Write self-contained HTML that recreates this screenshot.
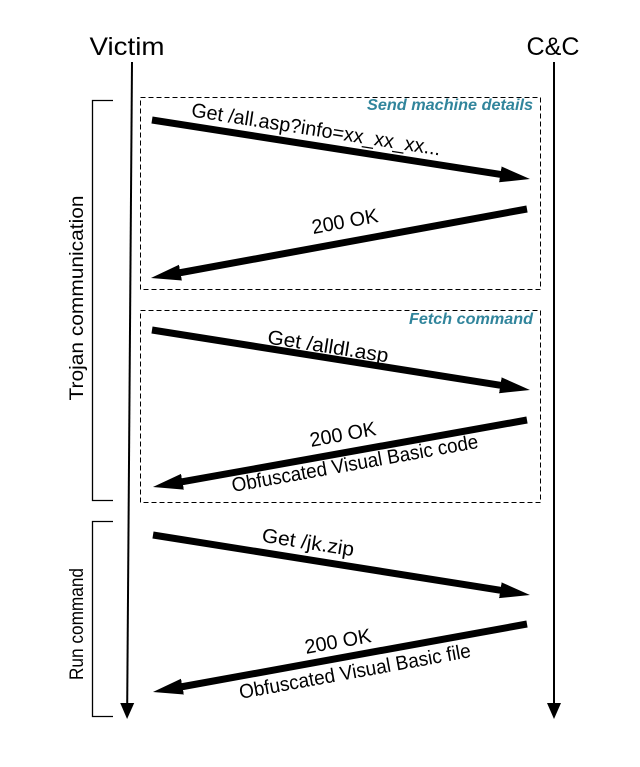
<!DOCTYPE html>
<html><head><meta charset="utf-8"><style>html,body{margin:0;padding:0;background:#fff;}svg{display:block}</style></head>
<body>
<svg width="640" height="767" viewBox="0 0 640 767" xmlns="http://www.w3.org/2000/svg" font-family="'Liberation Sans', sans-serif">
<defs>
<marker id="ah" markerUnits="userSpaceOnUse" markerWidth="40" markerHeight="20" viewBox="0 -10 40 20" refX="2" refY="0" orient="auto">
<path d="M0,-8 L30,0 L0,8 z" fill="#000"/>
</marker>
<marker id="vh" markerUnits="userSpaceOnUse" markerWidth="20" markerHeight="20" viewBox="0 -10 20 20" refX="1" refY="0" orient="auto">
<path d="M0,-7 L16,0 L0,7 z" fill="#000"/>
</marker>
</defs>
<text x="127" y="55" font-size="25" text-anchor="middle" textLength="75" lengthAdjust="spacingAndGlyphs">Victim</text>
<text x="553" y="55" font-size="25" text-anchor="middle" textLength="53" lengthAdjust="spacingAndGlyphs">C&amp;C</text>
<line x1="132" y1="62" x2="127.2" y2="704" stroke="#000" stroke-width="2" marker-end="url(#vh)"/>
<line x1="554" y1="62" x2="554" y2="704" stroke="#000" stroke-width="2" marker-end="url(#vh)"/>
<rect x="140.5" y="97.5" width="400" height="192" fill="none" stroke="#000" stroke-width="1" stroke-dasharray="5,3"/>
<rect x="140.5" y="310.5" width="400" height="192" fill="none" stroke="#000" stroke-width="1" stroke-dasharray="5,3"/>
<path d="M113,100.5 H92.5 V500.5 H113" fill="none" stroke="#000" stroke-width="1.3"/>
<path d="M113,521.5 H92.5 V716.5 H113" fill="none" stroke="#000" stroke-width="1.3"/>
<text transform="translate(83,298) rotate(-90)" font-size="19" text-anchor="middle" textLength="205" lengthAdjust="spacingAndGlyphs">Trojan communication</text>
<text transform="translate(83,624) rotate(-90)" font-size="19" text-anchor="middle" textLength="112" lengthAdjust="spacingAndGlyphs">Run command</text>
<text x="533" y="110" font-size="15.5" font-weight="bold" font-style="italic" fill="#31859c" text-anchor="end" textLength="166" lengthAdjust="spacingAndGlyphs">Send machine details</text>
<text x="533" y="324" font-size="15.5" font-weight="bold" font-style="italic" fill="#31859c" text-anchor="end" textLength="124" lengthAdjust="spacingAndGlyphs">Fetch command</text>
<g stroke="#000" stroke-width="7" marker-end="url(#ah)">
<line x1="152" y1="120" x2="502.3" y2="174.7"/>
<line x1="527" y1="209" x2="178.5" y2="273"/>
<line x1="152" y1="330" x2="502.3" y2="385.6"/>
<line x1="527" y1="420" x2="180.5" y2="482.1"/>
<line x1="153" y1="535" x2="502.3" y2="590.6"/>
<line x1="527" y1="624" x2="180.5" y2="687"/>
</g>
<g font-size="20" text-anchor="middle">
<text transform="translate(316,130) rotate(8.9)" y="6" textLength="252" lengthAdjust="spacingAndGlyphs">Get /all.asp?info=xx_xx_xx...</text>
<text transform="translate(345,222) rotate(-10.4)" y="6" textLength="67" lengthAdjust="spacingAndGlyphs">200 OK</text>
<text transform="translate(328,347) rotate(9)" y="6" textLength="122" lengthAdjust="spacingAndGlyphs">Get /alldl.asp</text>
<text transform="translate(343,435) rotate(-10.2)" y="6" textLength="67" lengthAdjust="spacingAndGlyphs">200 OK</text>
<text transform="translate(355,464) rotate(-10.2)" y="6" textLength="250" lengthAdjust="spacingAndGlyphs">Obfuscated Visual Basic code</text>
<text transform="translate(308,543) rotate(9)" y="6" textLength="93" lengthAdjust="spacingAndGlyphs">Get /jk.zip</text>
<text transform="translate(338,642) rotate(-10.3)" y="6" textLength="67" lengthAdjust="spacingAndGlyphs">200 OK</text>
<text transform="translate(355,672) rotate(-10.3)" y="6" textLength="235" lengthAdjust="spacingAndGlyphs">Obfuscated Visual Basic file</text>
</g>
</svg>
</body></html>
